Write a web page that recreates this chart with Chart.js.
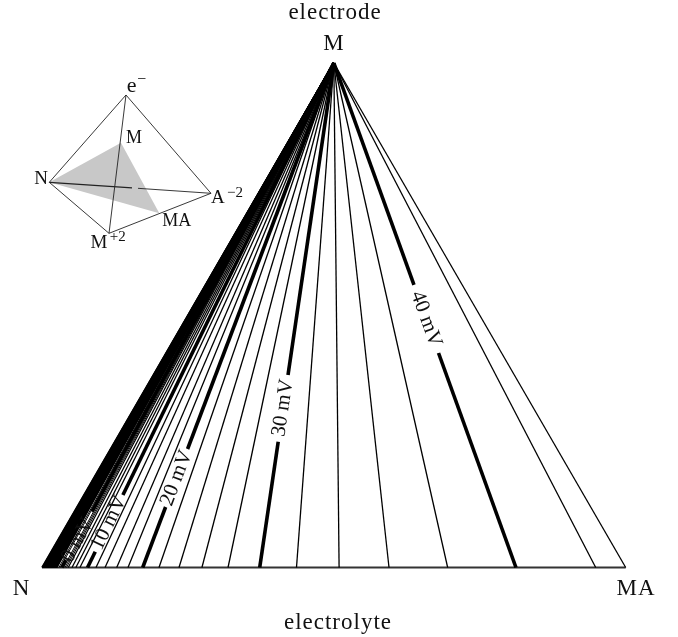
<!DOCTYPE html>
<html lang="en">
<head>
<meta charset="UTF-8">
<title>Electrode / electrolyte tie lines</title>
<script src="https://cdn.jsdelivr.net/npm/chart.js"></script>
<style>
    body { margin: 0; background: #fff; }
    canvas { display: block; }
</style>
</head>
<body>
<canvas id="tieLines" width="678" height="637"></canvas>
<script>
// N-MA position of each tie line where it meets the electrolyte side (0 = N, 1 = MA)
const thinLines = [0.9486, 0.695, 0.5945, 0.509, 0.436, 0.3187, 0.274, 0.2347, 0.2004,
    0.1473, 0.128, 0.108, 0.0925, 0.065, 0.058, 0.0514, 0.045];
const fineLines = [0.029, 0.0315, 0.037, 0.0395, 0.042];
const blackBand = [0.001, 0.002, 0.003, 0.004, 0.005, 0.006, 0.007, 0.008, 0.009, 0.01, 0.011, 0.012,
    0.013, 0.014, 0.015, 0.016, 0.017, 0.018, 0.019, 0.02, 0.021, 0.022, 0.023, 0.024, 0.025];

// the labelled isopotentials, drawn thick with a gap for the text
const thickNames = ["40 mV", "30 mV", "20 mV", "10 mV", "0 mV"];
const thickLines = [0.812, 0.373, 0.1725, 0.078, 0.034];
const gapTop = [0.56, 0.3816, 0.2349, 0.1437, 0.1106];
const gapBottom = [0.4252, 0.2494, 0.1199, 0.0313, 0.0149];
const labelX = [0.6579, 0.4129, 0.2306, 0.1148, 0.0613];
const labelY = [0.4926, 0.3162, 0.1774, 0.0882, 0.0545];
const labelAngle = [70.1, -81.6, -69.2, -64, -61.7];

// inset tetrahedron vertices
const vE = { x: 0.1439, y: 0.9366 };
const vN = { x: 0.0125, y: 0.7635 };
const vA = { x: 0.2895, y: 0.7417 };
const vM2 = { x: 0.1148, y: 0.6624 };
const vM = { x: 0.1353, y: 0.842 };
const vMA = { x: 0.201, y: 0.7021 };
const naBreak1 = { x: 0.1542, y: 0.7524 };
const naBreak2 = { x: 0.1645, y: 0.7516 };

// text, x, y, size, letter spacing
const textItems = [
    ["electrode", 0.502, 1.099, 23, 1],
    ["M", 0.5003, 1.0377, 23, 1],
    ["N", -0.036, -0.0426, 23, 0],
    ["MA", 1.0176, -0.0426, 23, 1],
    ["electrolyte", 0.5071, -0.11, 23, 1],
    ["e", 0.1537, 0.9545, 22, 0],
    ["\u2212", 0.1708, 0.9663, 16, 0],
    ["M", 0.1576, 0.8513, 18, 0],
    ["N", -0.0017, 0.7701, 19, 0],
    ["A", 0.3015, 0.7324, 19, 0],
    ["\u22122", 0.3306, 0.7423, 15, 0],
    ["MA", 0.2308, 0.6854, 18, 0],
    ["M", 0.0977, 0.6432, 19, 0],
    ["+2", 0.1297, 0.6551, 15, 0]
];

// a tie line runs from its base position up to the apex M at (0.5, 1)
function tiePoint(base, h) {
    return { x: base + (0.5 - base) * h, y: h };
}

function lineSet(data, width, color) {
    return { data: data, borderColor: color || "#000", borderWidth: width, showLine: true,
        pointRadius: 0, fill: false, clip: false };
}

const datasets = [];
thickLines.forEach((b, i) => {
    datasets.push(lineSet([tiePoint(b, 1), tiePoint(b, gapTop[i])], 3.6));
    datasets.push(lineSet([tiePoint(b, gapBottom[i]), tiePoint(b, 0)], 3.6));
});
thinLines.forEach(b => datasets.push(lineSet([tiePoint(b, 0), tiePoint(b, 1)], 1.3)));
fineLines.forEach(b => datasets.push(lineSet([tiePoint(b, 0), tiePoint(b, 1)], 1)));
blackBand.forEach(b => datasets.push(lineSet([tiePoint(b, 0), tiePoint(b, 1)], 2)));

// triangle sides
datasets.push(lineSet([{ x: 0, y: 0 }, { x: 0.5, y: 1 }], 1.6));
datasets.push(lineSet([{ x: 1, y: 0 }, { x: 0.5, y: 1 }], 1.3));
datasets.push(lineSet([{ x: 0, y: 0 }, { x: 1, y: 0 }], 2, "#333"));

// inset
[[vN, vE], [vE, vA], [vA, vM2], [vM2, vN], [vE, vM2], [naBreak2, vA]].forEach(seg => {
    datasets.push(lineSet(seg, 0.9, "#222"));
});
datasets.push(lineSet([vN, naBreak1], 1.2, "#222"));
datasets.push({ data: [vN, vM, vMA, vN], showLine: true, borderWidth: 0, pointRadius: 0,
    backgroundColor: "#c8c8c8", fill: "shape", clip: false });

const textPlugin = {
    id: "textPlugin",
    afterDatasetsDraw(chart) {
        const { ctx, scales } = chart;
        ctx.save();
        ctx.fillStyle = "#111";
        ctx.textAlign = "center";
        ctx.textBaseline = "middle";
        textItems.forEach(t => {
            ctx.font = t[3] + "px 'Liberation Serif'";
            ctx.letterSpacing = t[4] + "px";
            ctx.fillText(t[0], scales.x.getPixelForValue(t[1]), scales.y.getPixelForValue(t[2]));
        });
        ctx.font = "21px 'Liberation Serif'";
        ctx.letterSpacing = "0px";
        thickNames.forEach((name, i) => {
            ctx.save();
            ctx.translate(scales.x.getPixelForValue(labelX[i]), scales.y.getPixelForValue(labelY[i]));
            ctx.rotate(labelAngle[i] * Math.PI / 180);
            ctx.fillText(name, 0, 0);
            ctx.restore();
        });
        ctx.restore();
    }
};

new Chart(document.getElementById("tieLines"), {
    type: "scatter",
    data: { datasets: datasets },
    plugins: [textPlugin],
    options: {
        responsive: false,
        animation: false,
        layout: { padding: { left: 42, right: 52.3, top: 63, bottom: 69.5 } },
        plugins: { legend: { display: false }, tooltip: { enabled: false } },
        scales: {
            x: { type: "linear", min: 0, max: 1, display: false },
            y: { type: "linear", min: 0, max: 1, display: false }
        }
    }
});
</script>
</body>
</html>
